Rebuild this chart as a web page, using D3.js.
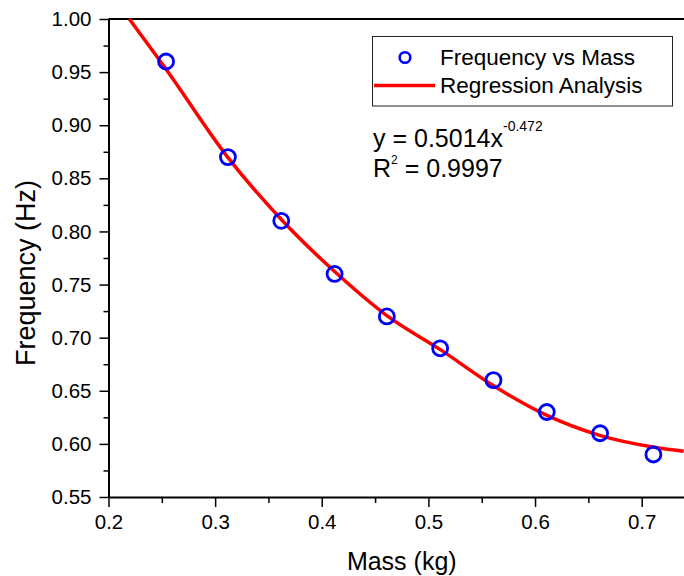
<!DOCTYPE html>
<html>
<head>
<meta charset="utf-8">
<script src="https://cdn.jsdelivr.net/npm/d3@7"></script>
<style>
  body { margin: 0; background: #fff; }
  svg { display: block; font-family: "Liberation Sans", Arial, sans-serif; }
</style>
</head>
<body>
<svg width="684" height="576"></svg>
<script>
// measured points
var mass      = [0.254, 0.312, 0.362, 0.412, 0.461, 0.511, 0.561, 0.611, 0.661, 0.711],
    frequency = [0.96, 0.87, 0.81, 0.76, 0.72, 0.69, 0.66, 0.63, 0.61, 0.59];

// regression curve
var fitX = [0.2195, 0.2545, 0.3117, 0.3623, 0.4123, 0.4607, 0.5123, 0.5622, 0.6107, 0.6606, 0.7106, 0.7394],
    fitY = [1.000, 0.952, 0.870, 0.811, 0.762, 0.721, 0.688, 0.654, 0.627, 0.608, 0.597, 0.593];

var xTicks = [0.2, 0.3, 0.4, 0.5, 0.6, 0.7],
    yTicks = [0.55, 0.60, 0.65, 0.70, 0.75, 0.80, 0.85, 0.90, 0.95, 1.00];

var legendLabels = ['Frequency vs Mass', 'Regression Analysis'];

var plotLeft = 108.5, plotRight = 695, plotTop = 19, plotBottom = 497;

var svg = d3.select('svg');

var x = d3.scaleLinear().domain([0.2, 0.75]).range([plotLeft, plotRight]),
    y = d3.scaleLinear().domain([0.55, 1.00]).range([plotBottom, plotTop]);

// minor ticks
svg.append('g')
  .attr('transform', 'translate(0,' + plotBottom + ')')
  .call(d3.axisBottom(x).tickValues(d3.range(0.25, 0.76, 0.1)).tickSize(6).tickFormat(''))
  .call(function(g){ g.select('.domain').remove(); });

svg.append('g')
  .attr('transform', 'translate(' + plotLeft + ',0)')
  .call(d3.axisLeft(y).tickValues(d3.range(0.575, 1.0, 0.05)).tickSize(5).tickFormat(''))
  .call(function(g){ g.select('.domain').remove(); });

// major ticks
svg.append('g')
  .attr('transform', 'translate(0,' + plotBottom + ')')
  .call(d3.axisBottom(x).tickValues(xTicks).tickSize(10).tickPadding(7).tickSizeOuter(0).tickFormat(d3.format('.1f')));

svg.append('g')
  .attr('transform', 'translate(' + plotLeft + ',0)')
  .call(d3.axisLeft(y).tickValues(yTicks).tickSize(9).tickPadding(8).tickSizeOuter(0).tickFormat(d3.format('.2f')));

svg.selectAll('.tick line').attr('stroke', '#000').attr('stroke-width', 1.5);
svg.selectAll('.domain').attr('stroke', '#000').attr('stroke-width', 2);
svg.selectAll('.tick text').attr('fill', '#000').attr('font-size', '20.5px').attr('font-family', '"Liberation Sans", Arial, sans-serif');

// top frame line
svg.append('line')
  .attr('x1', plotLeft).attr('x2', plotRight)
  .attr('y1', plotTop).attr('y2', plotTop)
  .attr('stroke', '#000').attr('stroke-width', 2);

// axis titles
svg.append('text')
  .attr('x', (plotLeft + plotRight) / 2).attr('y', 570)
  .attr('text-anchor', 'middle')
  .attr('font-size', '25px')
  .text('Mass (kg)');

svg.append('text')
  .attr('transform', 'translate(35,273) rotate(-90)')
  .attr('text-anchor', 'middle')
  .attr('font-size', '27px')
  .text('Frequency (Hz)');

// regression curve
var line = d3.line()
  .x(function(d, i){ return x(fitX[i]); })
  .y(function(d){ return y(d); })
  .curve(d3.curveMonotoneX);

svg.append('path')
  .datum(fitY)
  .attr('d', line)
  .attr('fill', 'none')
  .attr('stroke', '#ff0000')
  .attr('stroke-width', 3.5);

// data points
svg.append('g').selectAll('circle')
  .data(frequency)
  .enter().append('circle')
  .attr('cx', function(d, i){ return x(mass[i]); })
  .attr('cy', function(d){ return y(d); })
  .attr('r', 7.5)
  .attr('fill', 'none')
  .attr('stroke', '#0000ff')
  .attr('stroke-width', 2.8);

// legend
var legend = svg.append('g');
legend.append('rect')
  .attr('x', 372.5).attr('y', 36.5)
  .attr('width', 300).attr('height', 69.5)
  .attr('fill', '#fff').attr('stroke', '#222').attr('stroke-width', 1);

legend.append('circle')
  .attr('cx', 405).attr('cy', 57.5).attr('r', 5.3)
  .attr('fill', 'none').attr('stroke', '#0000ff').attr('stroke-width', 2.6);

legend.append('line')
  .attr('x1', 374).attr('x2', 435)
  .attr('y1', 85.5).attr('y2', 85.5)
  .attr('stroke', '#ff0000').attr('stroke-width', 3.5);

legend.selectAll('text.lbl')
  .data(legendLabels)
  .enter().append('text')
  .attr('class', 'lbl')
  .attr('x', 440)
  .attr('y', function(d, i){ return 65 + i * 27.5; })
  .attr('font-size', '22.5px')
  .text(function(d){ return d; });

// equation
var eq = svg.append('text').attr('x', 373).attr('y', 147.3).attr('font-size', '25px');
eq.append('tspan').text('y = 0.5014x');
eq.append('tspan').attr('font-size', '14px').attr('dy', -16).text('-0.472');

var r2 = svg.append('text').attr('x', 373).attr('y', 176.7).attr('font-size', '25px');
r2.append('tspan').text('R');
r2.append('tspan').attr('font-size', '12px').attr('dy', -13).text('2');
r2.append('tspan').attr('dy', 13).text(' = 0.9997');
</script>
</body>
</html>
